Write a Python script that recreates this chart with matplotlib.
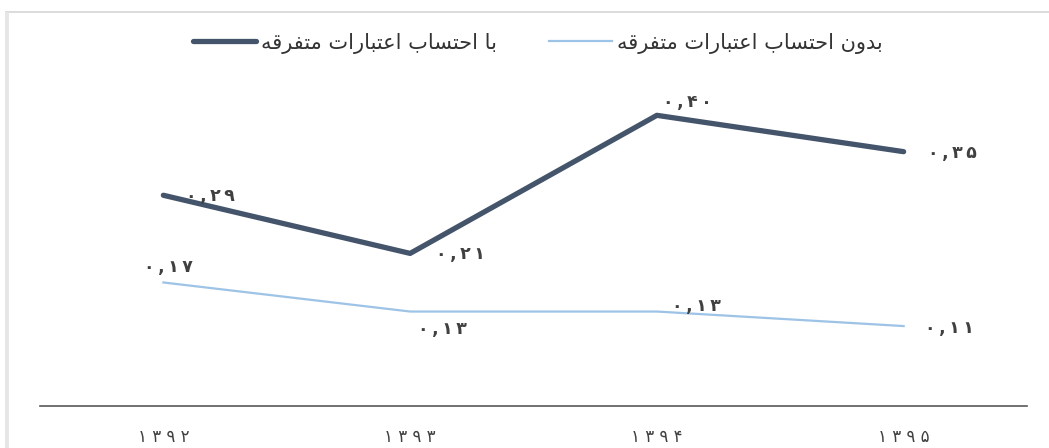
import matplotlib.pyplot as plt
from matplotlib.patches import Rectangle

# ---------- Data ----------
years = ["۱۳۹۲", "۱۳۹۳", "۱۳۹۴", "۱۳۹۵"]
with_misc = [0.29, 0.21, 0.40, 0.35]
without_misc = [0.17, 0.13, 0.13, 0.11]
with_labels = ["۰,۲۹", "۰,۲۱", "۰,۴۰", "۰,۳۵"]
without_labels = ["۰,۱۷", "۰,۱۳", "۰,۱۳", "۰,۱۱"]
name_with = "با احتساب اعتبارات متفرقه"
name_without = "بدون احتساب اعتبارات متفرقه"

# label offsets (pixels) from each point
with_offsets = [(47, -1), (50, -1), (31, 13), (49, -1)]
without_offsets = [(5, 15), (32, -17), (40, 6), (46, -2)]

# ---------- Simple Persian shaping (matplotlib has no bidi / joining) ----------
DUAL = {
    "ب": 0xFE8F, "ت": 0xFE95, "ح": 0xFEA1, "س": 0xFEB1, "ع": 0xFEC9,
    "ف": 0xFED1, "ق": 0xFED5, "م": 0xFEE1, "ن": 0xFEE5, "ه": 0xFEE9,
}
RIGHT = {"ا": 0xFE8D, "د": 0xFEA9, "ر": 0xFEAD, "و": 0xFEED}


def shape(text):
    out = []
    for i, ch in enumerate(text):
        prev = text[i - 1] if i > 0 else " "
        nxt = text[i + 1] if i < len(text) - 1 else " "
        j_prev = prev in DUAL
        if ch in DUAL:
            j_next = nxt in DUAL or nxt in RIGHT
            base = DUAL[ch]
            if j_prev and j_next:
                out.append(chr(base + 3))
            elif j_prev:
                out.append(chr(base + 1))
            elif j_next:
                out.append(chr(base + 2))
            else:
                out.append(chr(base))
        elif ch in RIGHT:
            out.append(chr(RIGHT[ch] + (1 if j_prev else 0)))
        else:
            out.append(ch)
    return "".join(reversed(out))


def spaced(s, sep="\u2009"):
    return sep.join(s)


plt.rcParams["font.family"] = ["DejaVu Sans"]

dark = "#44546A"
light = "#9DC3E6"
txt = "#404040"

fig = plt.figure(figsize=(10.49, 4.48), dpi=100)
ax = fig.add_axes([40 / 1049, (448 - 406) / 448, 987 / 1049, 327 / 448])

x = list(range(len(years)))
ax.plot(x, with_misc, color=dark, lw=3.8, solid_capstyle="round",
        solid_joinstyle="round", label=shape(name_with))
ax.plot(x, without_misc, color=light, lw=1.6, label=shape(name_without))

for xi, v, s, off in zip(x, with_misc, with_labels, with_offsets):
    ax.annotate(spaced(s), (xi, v), xytext=off, textcoords="offset pixels",
                ha="center", va="center", fontsize=12.5, fontweight="bold", color=txt)
for xi, v, s, off in zip(x, without_misc, without_labels, without_offsets):
    ax.annotate(spaced(s), (xi, v), xytext=off, textcoords="offset pixels",
                ha="center", va="center", fontsize=12.5, fontweight="bold", color=txt)

ax.set_xlim(-0.5, 3.5)
ax.set_ylim(0, 0.45)
ax.set_xticks(x)
ax.set_xticklabels([spaced(y, " ") for y in years], fontsize=12, color=txt)
ax.tick_params(axis="x", length=0, pad=16)
ax.set_yticks([])
for side in ["top", "right", "left"]:
    ax.spines[side].set_visible(False)
ax.spines["bottom"].set_color("#595959")
ax.spines["bottom"].set_linewidth(1.2)

leg = ax.legend(loc="center", bbox_to_anchor=(538 / 1049, 1 - 43 / 448),
                bbox_transform=fig.transFigure, ncol=2, frameon=False,
                prop={"size": 15}, handlelength=3.0,
                handletextpad=0.25, columnspacing=2.5, labelcolor="#333333")

# outer chart frame
fig.patches.append(Rectangle((6 / 1049, -0.01), 1.1, 1 - 12 / 448 + 0.01,
                             transform=fig.transFigure, fill=False,
                             edgecolor="#d9d9d9", lw=1.3))
fig.patches.append(Rectangle((5 / 1049, 0), 4 / 1049, 1 - 12 / 448,
                             transform=fig.transFigure, color="#e6e6e6", lw=0))

fig.savefig("out.png", dpi=100)
